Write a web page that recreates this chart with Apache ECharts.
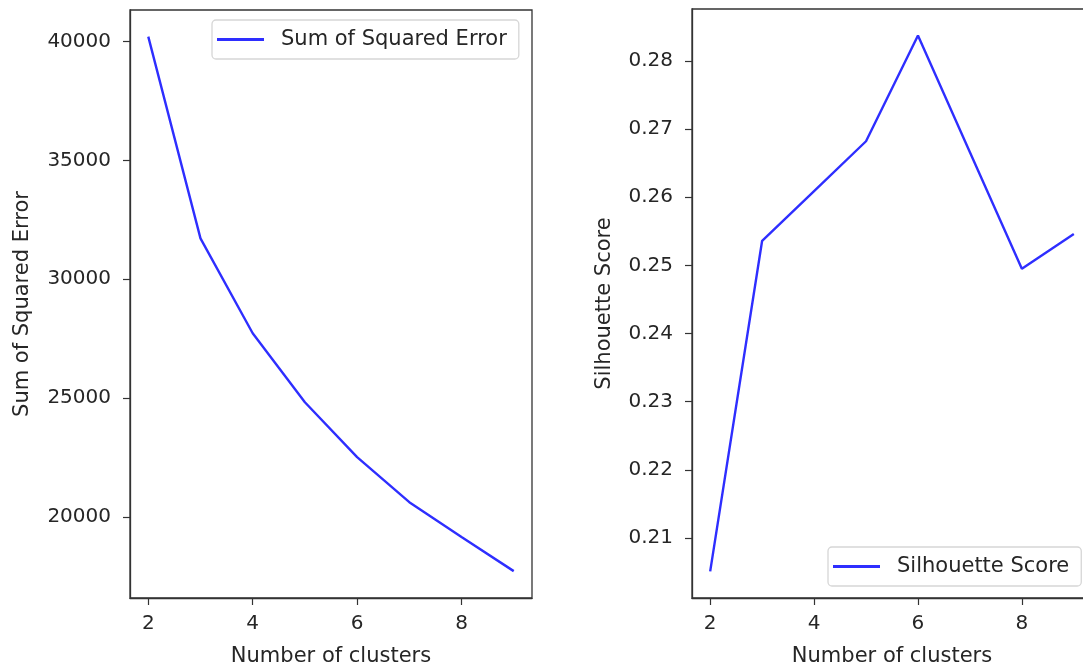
<!DOCTYPE html>
<html>
<head>
<meta charset="utf-8">
<script src="https://cdn.jsdelivr.net/npm/echarts@6/dist/echarts.min.js"></script>
<style>
html,body{margin:0;padding:0;background:#fff;}
#c{width:1083px;height:663px;}
</style>
</head>
<body>
<div id="c"></div>
<script>
const clusters = [2, 3, 4, 5, 6, 7, 8, 9];
const sse = [40200, 31720, 27730, 24830, 22520, 20630, 19160, 17730];
const silhouette = [0.2051, 0.2536, 0.2609, 0.2682, 0.2837, 0.2666, 0.2495, 0.2546];
const xTicks = [2, 4, 6, 8];
const sseTicks = [20000, 25000, 30000, 35000, 40000];
const silTicks = [0.21, 0.22, 0.23, 0.24, 0.25, 0.26, 0.27, 0.28];

const FONT = 'DejaVu Sans';
const TXT = '#262626';
const LINE = 'rgba(0,0,255,0.82)';
const TICKFS = 20;
const LABFS = 21;

function xAxis(gi) {
  return {
    type: 'value', gridIndex: gi, min: 1.65, max: 9.35,
    name: 'Number of clusters', nameLocation: 'middle', nameGap: 48,
    nameTextStyle: {fontFamily: FONT, fontSize: LABFS, color: TXT},
    axisLine: {show: true, onZero: false, lineStyle: {color: '#333', width: 1.3}},
    axisTick: {show: true, length: 7, customValues: xTicks, lineStyle: {color: '#333', width: 1.2}},
    axisLabel: {customValues: xTicks, fontFamily: FONT, fontSize: TICKFS, color: TXT, margin: 16},
    splitLine: {show: false}
  };
}
function yAxis(gi, min, max, ticks, name, gap, fmt) {
  return {
    type: 'value', gridIndex: gi, min: min, max: max,
    name: name, nameLocation: 'middle', nameGap: gap, nameRotate: 90,
    nameTextStyle: {fontFamily: FONT, fontSize: LABFS, color: TXT},
    axisLine: {show: true, onZero: false, lineStyle: {color: '#333', width: 1.3}},
    axisTick: {show: true, length: 7, customValues: ticks, lineStyle: {color: '#333', width: 1.2}},
    axisLabel: {customValues: ticks, fontFamily: FONT, fontSize: TICKFS, color: TXT, margin: 19, formatter: fmt},
    splitLine: {show: false}
  };
}

const chart = echarts.init(document.getElementById('c'), null, {renderer: 'canvas'});
chart.setOption({
  animation: false,
  backgroundColor: '#fff',
  grid: [
    {left: 130, right: 1083 - 532, top: 10, bottom: 663 - 598, outerBoundsMode: 'none', containLabel: false, show: true, borderColor: '#333', borderWidth: 1.3, backgroundColor: 'transparent'},
    {left: 692, right: 1083 - 1092, top: 9, bottom: 663 - 598, outerBoundsMode: 'none', containLabel: false, show: true, borderColor: '#333', borderWidth: 1.3, backgroundColor: 'transparent'}
  ],
  xAxis: [xAxis(0), xAxis(1)],
  yAxis: [
    yAxis(0, 16600, 41320, sseTicks, 'Sum of Squared Error', 97, v => String(v)),
    yAxis(1, 0.2012, 0.2876, silTicks, 'Silhouette Score', 77, v => v.toFixed(2))
  ],
  legend: [
    {
      data: ['Sum of Squared Error'], left: 212, top: 20, orient: 'vertical',
      icon: 'rect', itemWidth: 47, itemHeight: 3,
      padding: [9, 12, 9, 5], borderColor: '#d6d6d6', borderWidth: 1.3, borderRadius: 4,
      textStyle: {fontFamily: FONT, fontSize: LABFS, color: TXT, padding: [0, 0, 0, 12]}
    },
    {
      data: ['Silhouette Score'], left: 828, top: 547, orient: 'vertical',
      icon: 'rect', itemWidth: 47, itemHeight: 3,
      padding: [9, 12, 9, 5], borderColor: '#d6d6d6', borderWidth: 1.3, borderRadius: 4,
      textStyle: {fontFamily: FONT, fontSize: LABFS, color: TXT, padding: [0, 0, 0, 12]}
    }
  ],
  series: [
    {
      name: 'Sum of Squared Error', type: 'line', xAxisIndex: 0, yAxisIndex: 0,
      data: clusters.map((c, i) => [c, sse[i]]),
      showSymbol: false, symbol: 'none', color: LINE,
      lineStyle: {color: LINE, width: 2.4}
    },
    {
      name: 'Silhouette Score', type: 'line', xAxisIndex: 1, yAxisIndex: 1,
      data: clusters.map((c, i) => [c, silhouette[i]]),
      showSymbol: false, symbol: 'none', color: LINE,
      lineStyle: {color: LINE, width: 2.4}
    }
  ]
});
</script>
</body>
</html>
